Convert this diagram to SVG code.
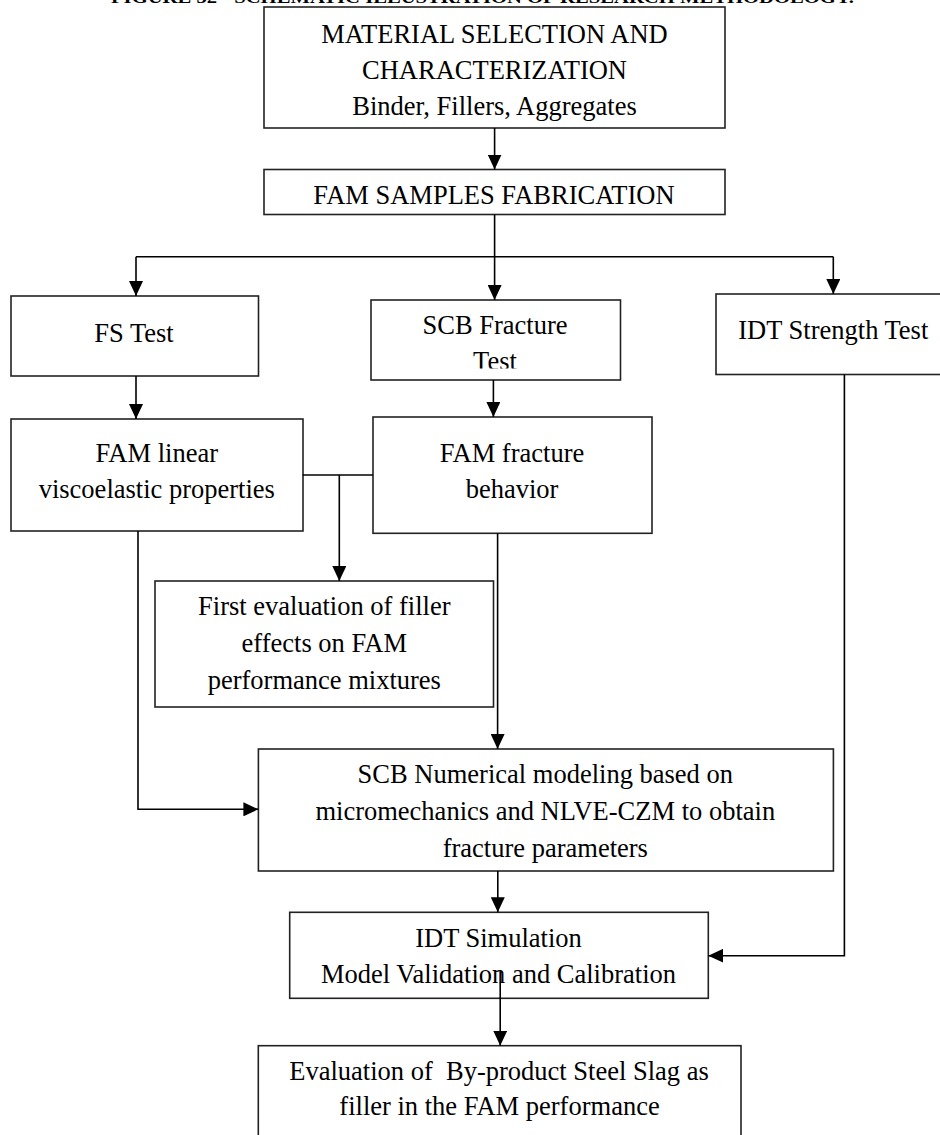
<svg xmlns="http://www.w3.org/2000/svg" width="940" height="1135" viewBox="0 0 940 1135">
<style>
.box{fill:#fff;stroke:#222;stroke-width:1.6}
.t{font-family:"Liberation Serif","Times New Roman",serif;font-size:26.5px;fill:#000;text-anchor:middle;white-space:pre}
.cap{font-family:"Liberation Serif","Times New Roman",serif;font-size:16px;font-weight:bold;fill:#000}
.c{fill:none;stroke:#000;stroke-width:1.6}
</style>
<defs>
<marker id="ah" markerUnits="userSpaceOnUse" markerWidth="16" markerHeight="14" refX="15" refY="7" orient="auto">
<path d="M0,0 L15,7 L0,14 z" fill="#000"/>
</marker>
<clipPath id="scbclip"><rect x="371" y="300" width="250" height="68.5"/></clipPath>
</defs>
<rect width="940" height="1135" fill="#fff"/>
<text class="cap" x="111" y="3" textLength="743" lengthAdjust="spacingAndGlyphs">FIGURE 32 - SCHEMATIC ILLUSTRATION OF RESEARCH METHODOLOGY.</text>
<g id="n1">
<rect class="box" x="264" y="7" width="461" height="121"/>
<text class="t" x="494.5" y="42.5">MATERIAL SELECTION AND</text>
<text class="t" x="494.5" y="78.5">CHARACTERIZATION</text>
<text class="t" x="494.5" y="114.5">Binder, Fillers, Aggregates</text>
</g>
<g id="n2">
<rect class="box" x="264" y="169.5" width="461" height="45"/>
<text class="t" x="494" y="204">FAM SAMPLES FABRICATION</text>
</g>
<g id="n3">
<rect class="box" x="11" y="296" width="247.5" height="80"/>
<text class="t" x="134" y="341.7">FS Test</text>
</g>
<g id="n4">
<rect class="box" x="371" y="300" width="249.5" height="80"/>
<text class="t" x="495" y="334.3">SCB Fracture</text>
<text class="t" x="495" y="370" clip-path="url(#scbclip)">Test</text>
</g>
<g id="n5">
<rect class="box" x="716" y="294" width="240" height="80.5"/>
<text class="t" x="833.3" y="339.3">IDT Strength Test</text>
</g>
<g id="n6">
<rect class="box" x="11" y="419" width="292" height="112"/>
<text class="t" x="156.8" y="461.7">FAM linear</text>
<text class="t" x="156.8" y="498.3">viscoelastic properties</text>
</g>
<g id="n7">
<rect class="box" x="373" y="417" width="279" height="116.3"/>
<text class="t" x="512" y="461.7">FAM fracture</text>
<text class="t" x="512" y="498.3">behavior</text>
</g>
<g id="n8">
<rect class="box" x="155" y="581" width="338.5" height="126"/>
<text class="t" x="324.3" y="615">First evaluation of filler</text>
<text class="t" x="324.3" y="651.7">effects on FAM</text>
<text class="t" x="324.3" y="689.3">performance mixtures</text>
</g>
<g id="n9">
<rect class="box" x="258.4" y="749" width="575" height="122"/>
<text class="t" x="545.3" y="783.3">SCB Numerical modeling based on</text>
<text class="t" x="545.3" y="820">micromechanics and NLVE-CZM to obtain</text>
<text class="t" x="545.3" y="856.7">fracture parameters</text>
</g>
<g id="n10">
<rect class="box" x="289.7" y="912.3" width="418.6" height="86"/>
<text class="t" x="498.5" y="946.7">IDT Simulation</text>
<text class="t" x="498.5" y="983.3">Model Validation and Calibration</text>
</g>
<g id="n11">
<rect class="box" x="258.3" y="1045.7" width="482.7" height="110"/>
<text class="t" x="499" y="1080">Evaluation of  By-product Steel Slag as</text>
<text class="t" x="499.5" y="1115">filler in the FAM performance</text>
</g>
<g id="connectors">
<path class="c" d="M494.6,128 V169.5" marker-end="url(#ah)"/>
<path class="c" d="M494.6,214.5 V300" marker-end="url(#ah)"/>
<path class="c" d="M136,256.7 H833.3" stroke-width="2.2"/>
<path class="c" d="M136,256.7 V296" marker-end="url(#ah)"/>
<path class="c" d="M833.3,256.7 V294" marker-end="url(#ah)"/>
<path class="c" d="M136,376 V419" marker-end="url(#ah)"/>
<path class="c" d="M493.4,380 V417" marker-end="url(#ah)"/>
<path class="c" d="M302.7,475 H373" stroke-width="2"/>
<path class="c" d="M339.3,475 V581" stroke-width="2" marker-end="url(#ah)"/>
<path class="c" d="M497.6,533.3 V749" marker-end="url(#ah)"/>
<path class="c" d="M138,531 V809.3 H258.4" marker-end="url(#ah)"/>
<path class="c" d="M844.4,374.5 V955.7 H708.3" marker-end="url(#ah)"/>
<path class="c" d="M497.8,871 V912.3" marker-end="url(#ah)"/>
<path class="c" d="M500.2,972 V1045.7" marker-end="url(#ah)"/>
</g>
</svg>
